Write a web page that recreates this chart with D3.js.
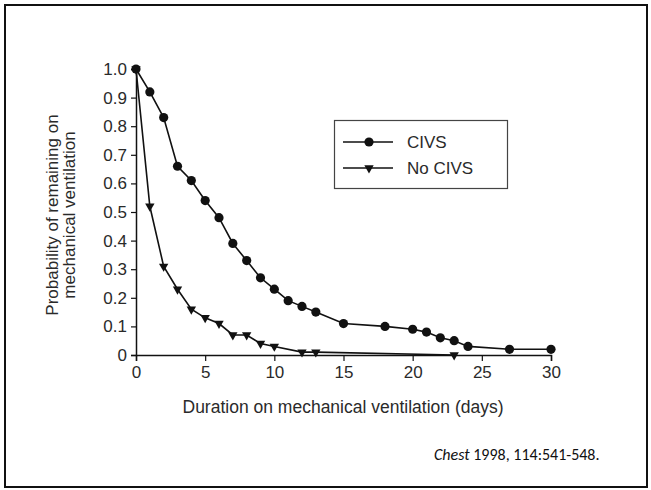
<!DOCTYPE html>
<html>
<head>
<meta charset="utf-8">
<script src="https://cdn.jsdelivr.net/npm/d3@7"></script>
<style>
  body { margin: 0; background: #fff; }
  svg { display: block; font-family: "Liberation Sans", Arial, sans-serif; }
</style>
</head>
<body>
<svg width="651" height="490"></svg>
<script>
// data
const civsDays = [0, 1, 2, 3, 4, 5, 6, 7, 8, 9, 10, 11, 12, 13, 15, 18, 20, 21, 22, 23, 24, 27, 30];
const civsProb = [1.0, 0.92, 0.83, 0.66, 0.61, 0.54, 0.48, 0.39, 0.33, 0.27, 0.23, 0.19, 0.17, 0.15, 0.11, 0.10, 0.09, 0.08, 0.06, 0.05, 0.03, 0.02, 0.02];
const noCivsDays = [0, 1, 2, 3, 4, 5, 6, 7, 8, 9, 10, 12, 13, 23];
const noCivsProb = [1.0, 0.52, 0.31, 0.23, 0.16, 0.13, 0.11, 0.07, 0.07, 0.04, 0.03, 0.01, 0.01, 0.0];
const xTicks = [0, 5, 10, 15, 20, 25, 30];
const yTicks = [0, 0.1, 0.2, 0.3, 0.4, 0.5, 0.6, 0.7, 0.8, 0.9, 1.0];
const seriesNames = ['CIVS', 'No CIVS'];

const svg = d3.select('svg');

// outer frame
svg.append('rect')
  .attr('x', 5).attr('y', 5)
  .attr('width', 642).attr('height', 482)
  .attr('fill', 'none')
  .attr('stroke', '#111')
  .attr('stroke-width', 2);

const x = d3.scaleLinear().domain([0, 30]).range([136, 551]);
const y = d3.scaleLinear().domain([0, 1]).range([355, 69]);

const textColor = '#2a2a2a';

// axes
const xAxis = svg.append('g')
  .attr('transform', `translate(0,${y(0)})`)
  .call(d3.axisBottom(x).tickValues(xTicks).tickSize(6).tickPadding(5));

const yAxis = svg.append('g')
  .attr('transform', `translate(${x(0)},0)`)
  .call(d3.axisLeft(y).tickValues(yTicks).tickSize(5).tickPadding(4)
    .tickFormat(d => d === 0 ? '0' : d.toFixed(1)));

[xAxis, yAxis].forEach(g => {
  g.select('.domain').attr('stroke', '#111').attr('stroke-width', 1.5);
  g.selectAll('.tick line').attr('stroke', '#111').attr('stroke-width', 1.2);
  g.selectAll('.tick text')
    .attr('fill', textColor)
    .style('font-size', '17px');
});

// axis titles
svg.append('text')
  .attr('x', 343).attr('y', 413)
  .attr('text-anchor', 'middle')
  .attr('fill', textColor)
  .style('font-size', '17.5px')
  .text('Duration on mechanical ventilation (days)');

const yTitle = svg.append('text')
  .attr('transform', 'translate(58,215) rotate(-90)')
  .attr('text-anchor', 'middle')
  .attr('fill', textColor)
  .style('font-size', '17px');
yTitle.append('tspan').attr('x', 0).attr('dy', 0).text('Probability of remaining on');
yTitle.append('tspan').attr('x', 0).attr('dy', 17).text('mechanical ventilation');

// series
const line = d3.line().x(d => x(d[0])).y(d => y(d[1]));
const civs = civsDays.map((d, i) => [d, civsProb[i]]);
const noCivs = noCivsDays.map((d, i) => [d, noCivsProb[i]]);

const tri = d3.symbol().type(d3.symbolTriangle).size(38);

svg.append('path')
  .datum(noCivs)
  .attr('d', line)
  .attr('fill', 'none')
  .attr('stroke', '#111')
  .attr('stroke-width', 1.6);

svg.append('path')
  .datum(civs)
  .attr('d', line)
  .attr('fill', 'none')
  .attr('stroke', '#111')
  .attr('stroke-width', 1.6);

svg.selectAll('.tri')
  .data(noCivs)
  .enter()
  .append('path')
  .attr('class', 'tri')
  .attr('d', tri)
  .attr('transform', d => `translate(${x(d[0])},${y(d[1])}) rotate(180)`)
  .attr('fill', '#111');

svg.selectAll('.dot')
  .data(civs)
  .enter()
  .append('circle')
  .attr('class', 'dot')
  .attr('cx', d => x(d[0]))
  .attr('cy', d => y(d[1]))
  .attr('r', 4.6)
  .attr('fill', '#111');

// legend
const legend = svg.append('g');
legend.append('rect')
  .attr('x', 334.5).attr('y', 120.5)
  .attr('width', 173).attr('height', 68)
  .attr('fill', '#fff')
  .attr('stroke', '#444')
  .attr('stroke-width', 1.2);

seriesNames.forEach((name, i) => {
  const ly = 142 + i * 26;
  legend.append('line')
    .attr('x1', 343).attr('x2', 393)
    .attr('y1', ly).attr('y2', ly)
    .attr('stroke', '#111').attr('stroke-width', 1.6);
  if (i === 0) {
    legend.append('circle').attr('cx', 369).attr('cy', ly).attr('r', 4.6).attr('fill', '#111');
  } else {
    legend.append('path').attr('d', tri)
      .attr('transform', `translate(369,${ly}) rotate(180)`)
      .attr('fill', '#111');
  }
  legend.append('text')
    .attr('x', 407).attr('y', ly + 6)
    .attr('fill', textColor)
    .style('font-size', '17px')
    .text(name);
});

// citation
const cite = svg.append('text')
  .attr('x', 434).attr('y', 460)
  .attr('fill', '#111')
  .style('font-family', 'Carlito, "Liberation Sans Narrow", "Open Sans", sans-serif')
  .style('font-size', '16px');
cite.append('tspan').style('font-style', 'italic').text('Chest');
cite.append('tspan').text(' 1998, 114:541-548.');
</script>
</body>
</html>
